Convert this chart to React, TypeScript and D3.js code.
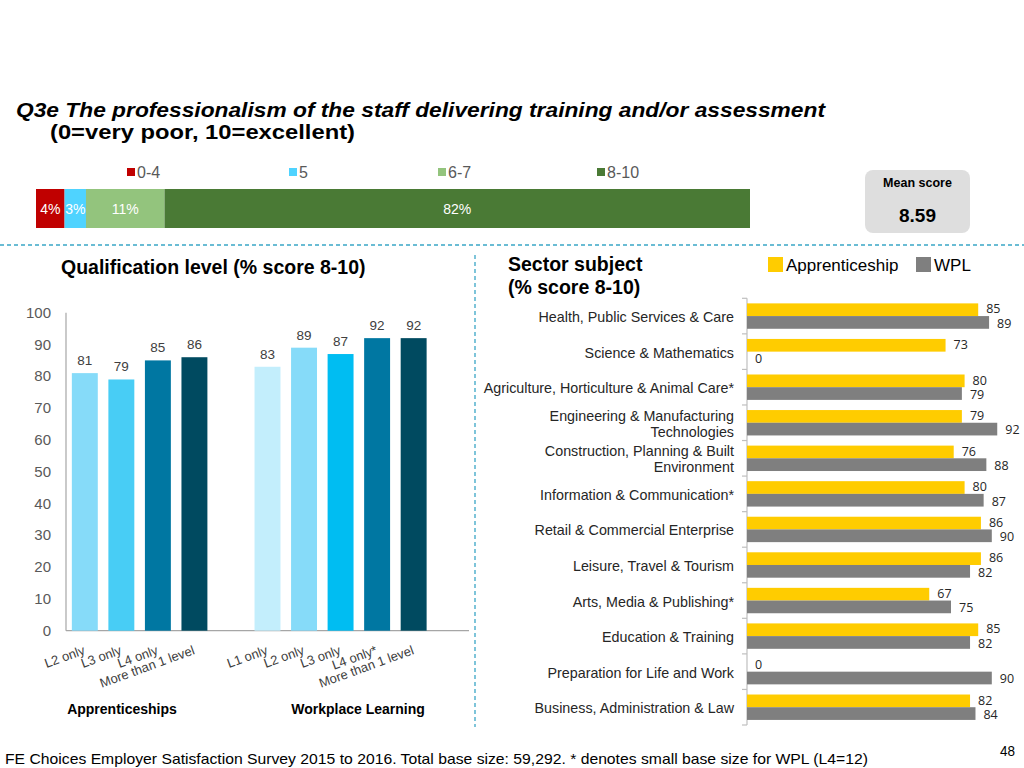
import React from 'react';
import * as d3 from 'd3';

// ---------- data ----------
const distBands = ['0-4', '5', '6-7', '8-10'];
const distValues = [4, 3, 11, 82];
const distColors = ['#c00000', '#4fd3ff', '#93c47d', '#4a7a35'];
const meanScore = '8.59';

const appLevels = ['L2 only', 'L3 only', 'L4 only', 'More than 1 level'];
const appValues = [81, 79, 85, 86];
const appColors = ['#86dbf9', '#48cdf5', '#0077a2', '#004a60'];
const wplLevels = ['L1 only', 'L2 only', 'L3 only', 'L4 only*', 'More than 1 level'];
const wplValues = [83, 89, 87, 92, 92];
const wplColors = ['#c3eefc', '#86dbf9', '#00bdf2', '#0077a2', '#004a60'];
const qualTicks = [0, 10, 20, 30, 40, 50, 60, 70, 80, 90, 100];

const sectors = [
  'Health, Public Services & Care',
  'Science & Mathematics',
  'Agriculture, Horticulture & Animal Care*',
  'Engineering & Manufacturing\nTechnologies',
  'Construction, Planning & Built\nEnvironment',
  'Information & Communication*',
  'Retail & Commercial Enterprise',
  'Leisure, Travel & Tourism',
  'Arts, Media & Publishing*',
  'Education & Training',
  'Preparation for Life and Work',
  'Business, Administration & Law',
];
const sectorApp = [85, 73, 80, 79, 76, 80, 86, 86, 67, 85, 0, 82];
const sectorWpl = [89, 0, 79, 92, 88, 87, 90, 82, 75, 82, 90, 84];
const seriesNames = ['Apprenticeship', 'WPL'];
const seriesColors = ['#ffcc00', '#7f7f7f'];

const FONT = '"Liberation Sans", Arial, sans-serif';
const LABFONT = '"Open Sans", "Liberation Sans", sans-serif';

export default function App() {
  // stacked distribution bar
  const xDist = d3.scaleLinear().domain([0, 100]).range([36, 750]);
  const cum = d3.cumsum(distValues);
  const distLegendX = [127, 289, 438, 597];

  // qualification chart
  const slots = [
    ...appLevels.map((_, i) => 'a' + i),
    'gap1',
    ...wplLevels.map((_, i) => 'w' + i),
    'gap2',
  ];
  const xQ = d3.scaleBand().domain(slots).range([66, 469]).paddingInner(0.29).paddingOuter(0.16);
  const yQ = d3.scaleLinear().domain([0, 100]).range([630.7, 312.7]);
  const qualBars = [
    ...appValues.map((v, i) => ({ key: 'a' + i, v, c: appColors[i], label: appLevels[i] })),
    ...wplValues.map((v, i) => ({ key: 'w' + i, v, c: wplColors[i], label: wplLevels[i] })),
  ];

  // sector chart
  const yS = d3.scaleBand().domain(sectors).range([298.3, 725]).padding(0);
  const ySub = d3.scaleBand().domain(seriesNames).range([0, yS.bandwidth()]).paddingInner(0).paddingOuter(0.4);
  const xS = d3.scaleLinear().domain([0, 100]).range([747, 1019]);
  const seriesVals = [sectorApp, sectorWpl];
  const labelShift = [-0.8, 0.8];

  return (
    <svg
      width={1024}
      height={768}
      style={{ position: 'absolute', left: 0, top: 0, background: '#fff' }}
      fontFamily={FONT}
    >
      {/* title */}
      <text x={16} y={117} fontSize={21} fontWeight="bold" fontStyle="italic" fill="#000"
        textLength={809} lengthAdjust="spacingAndGlyphs">
        Q3e The professionalism of the staff delivering training and/or assessment
      </text>
      <text x={50} y={139} fontSize={21} fontWeight="bold" fill="#000" textLength={305} lengthAdjust="spacingAndGlyphs">
        (0=very poor, 10=excellent)
      </text>

      {/* distribution legend */}
      {distBands.map((b, i) => (
        <g key={b}>
          <rect x={distLegendX[i]} y={168} width={8} height={8} fill={distColors[i]} />
          <text x={distLegendX[i] + 10} y={178} fontSize={16} fill="#595959">{b}</text>
        </g>
      ))}
      {/* distribution bar */}
      {distValues.map((v, i) => {
        const x0 = xDist(cum[i] - v);
        const x1 = xDist(cum[i]);
        return (
          <g key={i}>
            <rect x={x0} y={189} width={x1 - x0} height={39} fill={distColors[i]} />
            <text x={(x0 + x1) / 2} y={214} fontSize={14} fill="#fff" textAnchor="middle">{v}%</text>
          </g>
        );
      })}

      {/* mean score */}
      <rect x={865} y={170} width={105} height={63} rx={8} fill="#dedede" />
      <text x={917.5} y={187} fontSize={12.5} fontWeight="bold" textAnchor="middle" fill="#000">Mean score</text>
      <text x={917.5} y={222} fontSize={19} fontWeight="bold" textAnchor="middle" fill="#000">{meanScore}</text>

      {/* dashed separators */}
      <line x1={0} x2={1024} y1={245} y2={245} stroke="#3aa6c6" strokeWidth={1.3} strokeDasharray="4,3" />
      <line x1={475} x2={475} y1={255} y2={727} stroke="#3aa6c6" strokeWidth={1.3} strokeDasharray="4,3" />

      {/* qualification chart */}
      <text x={61} y={274} fontSize={19.5} fontWeight="bold" fill="#000">Qualification level (% score 8-10)</text>
      {qualTicks.map((t) => (
        <text key={t} x={51} y={yQ(t) + 5} fontSize={15} fill="#595959" textAnchor="end">{t}</text>
      ))}
      <line x1={66} x2={66} y1={yQ(100)} y2={yQ(0)} stroke="#a6a6a6" strokeWidth={1.2} />
      <line x1={66} x2={469} y1={yQ(0)} y2={yQ(0)} stroke="#a6a6a6" strokeWidth={1.2} />
      {qualBars.map((b) => {
        const x = xQ(b.key)!;
        const cx = x + xQ.bandwidth() / 2;
        return (
          <g key={b.key}>
            <rect x={x} y={yQ(b.v)} width={xQ.bandwidth()} height={yQ(0) - yQ(b.v)} fill={b.c} />
            <text x={cx} y={yQ(b.v) - 8} fontSize={13.5} fill="#404040" textAnchor="middle">{b.v}</text>
            <text
              transform={`translate(${cx + 1},${yQ(0) + 23}) rotate(-20)`}
              fontSize={13}
              fill="#404040"
              textAnchor="end"
            >
              {b.label}
            </text>
          </g>
        );
      })}
      <text x={122} y={714} fontSize={14} fontWeight="bold" textAnchor="middle" fill="#000">Apprenticeships</text>
      <text x={358} y={714} fontSize={14} fontWeight="bold" textAnchor="middle" fill="#000">Workplace Learning</text>

      {/* sector chart */}
      <text x={508} y={271} fontSize={19.5} fontWeight="bold" fill="#000">Sector subject</text>
      <text x={508} y={294} fontSize={19.5} fontWeight="bold" fill="#000">(% score 8-10)</text>
      {seriesNames.map((s, i) => {
        const lx = [768, 916][i];
        return (
          <g key={s}>
            <rect x={lx} y={257} width={15} height={15} fill={seriesColors[i]} />
            <text x={lx + 18} y={271} fontSize={17} fill="#000">{s}</text>
          </g>
        );
      })}
      <line x1={xS(0)} x2={xS(0)} y1={298.3} y2={725} stroke="#bfbfbf" strokeWidth={1.2} />
      {[...sectors.map((s) => yS(s)!), 725].map((y, i) => (
        <line key={i} x1={xS(0) - 5} x2={xS(0)} y1={y} y2={y} stroke="#bfbfbf" strokeWidth={1.2} />
      ))}
      {sectors.map((s, ci) => {
        const y0 = yS(s)!;
        const lines = s.split('\n');
        const cy = y0 + yS.bandwidth() / 2 + 1;
        return (
          <g key={s}>
            {lines.map((ln, li) => (
              <text key={li} x={734} y={cy + 5 + (li - (lines.length - 1) / 2) * 16}
                fontSize={14.3} fill="#262626" textAnchor="end">{ln}</text>
            ))}
            {seriesNames.map((sn, si) => {
              const v = seriesVals[si][ci];
              const by = y0 + ySub(sn)!;
              return (
                <g key={sn}>
                  <rect x={xS(0)} y={by} width={xS(v) - xS(0)} height={ySub.bandwidth()} fill={seriesColors[si]} />
                  <text x={xS(v) + 8} y={by + ySub.bandwidth() / 2 + 4.5 + labelShift[si]} fontSize={12.5}
                    fontFamily={LABFONT} fill="#262626">{v}</text>
                </g>
              );
            })}
          </g>
        );
      })}

      {/* footer */}
      <text x={5} y={764} fontSize={15} fill="#000" textLength={863} lengthAdjust="spacingAndGlyphs">
        FE Choices Employer Satisfaction Survey 2015 to 2016.  Total base size: 59,292. * denotes small base size for WPL (L4=12)
      </text>
      <text x={1000} y={756} fontSize={15} fill="#000" textLength={15} lengthAdjust="spacingAndGlyphs">48</text>
    </svg>
  );
}
